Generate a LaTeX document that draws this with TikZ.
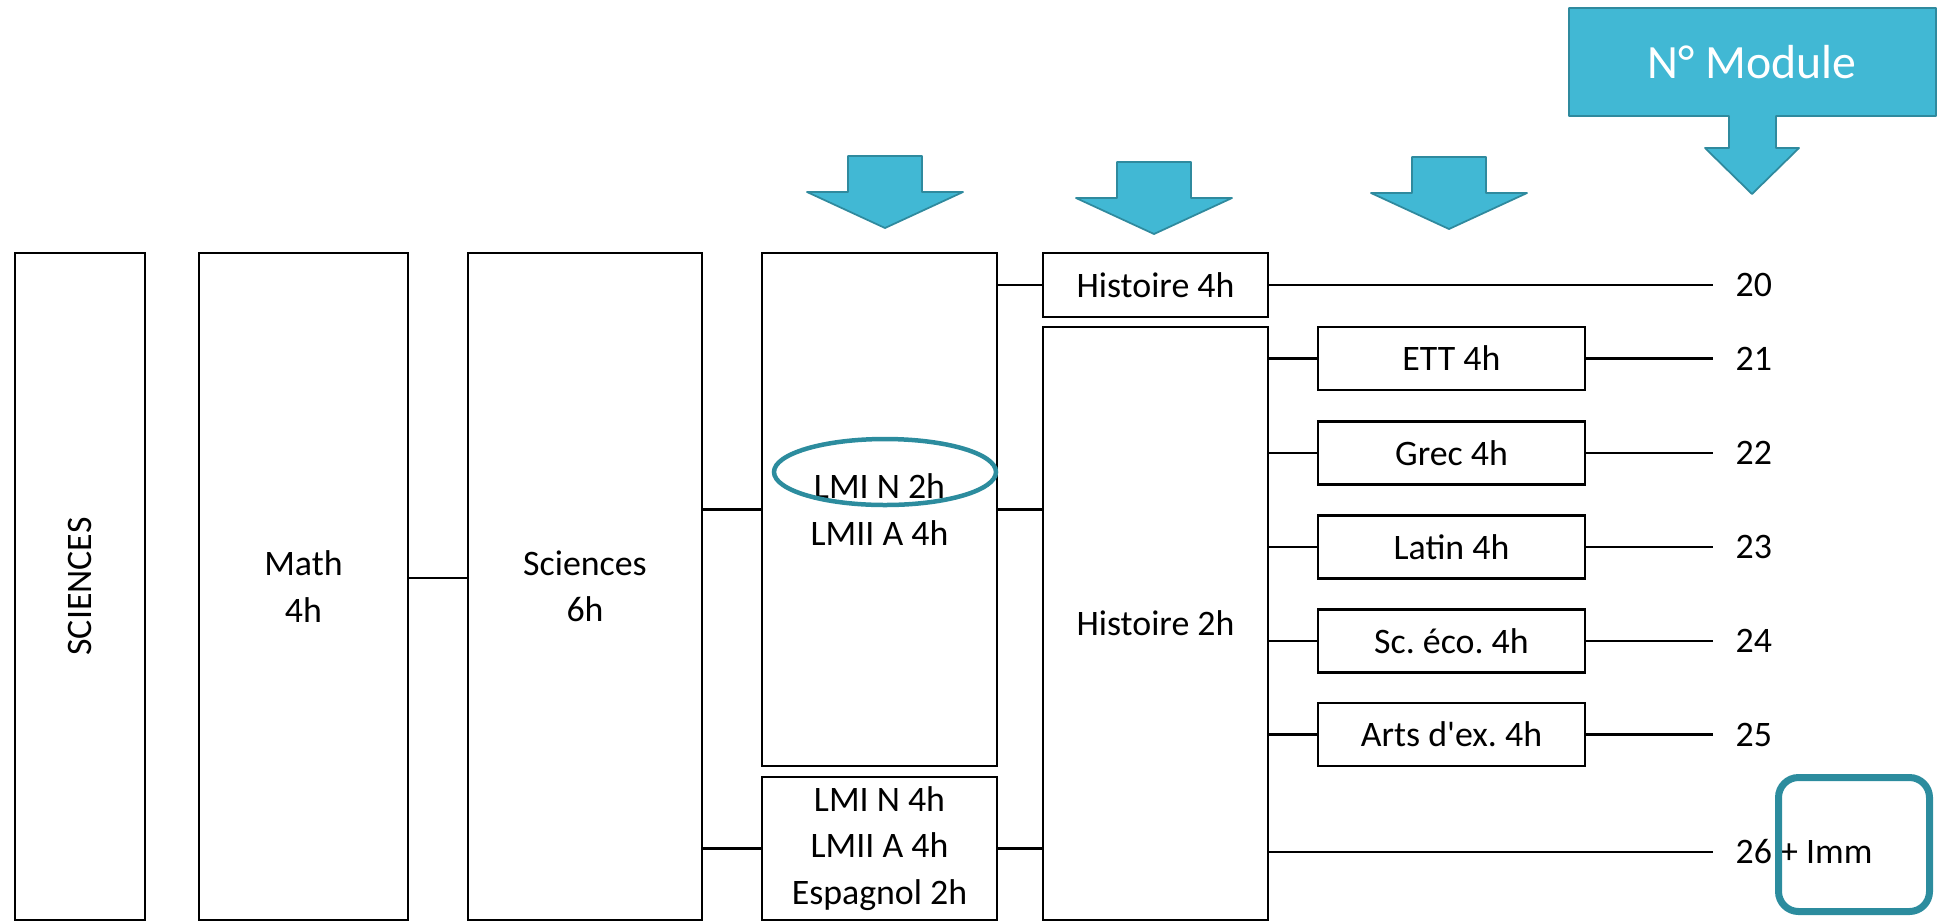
\documentclass[tikz,border=0pt]{standalone}
\usepackage{fontspec}
\setmainfont{Carlito}
\frenchspacing
\definecolor{arrowCyan}{RGB}{65,184,212}
\definecolor{arrowEdge}{RGB}{47,138,158}
\definecolor{markTeal}{RGB}{44,140,158}
\tikzstyle{course}  = [draw, line width=0.6pt, align=center, inner sep=0pt]
\tikzstyle{option}  = [course, minimum width=26.7mm, minimum height=6.3mm]
\tikzstyle{modnum}  = [anchor=west, inner xsep=2.2mm, inner ysep=0pt]
\tikzstyle{link}    = [line width=0.6pt]
\tikzstyle{pointer} = [fill=arrowCyan, draw=arrowEdge, line width=0.5pt, line join=round]
\tikzstyle{marker}  = [draw=markTeal, inner sep=0pt]
\usetikzlibrary{positioning,shapes.geometric}
\tikzset{
  every node/.style={font=\fontsize{10.2}{13.2}\selectfont},
  moduletext/.style={text=white, font=\fontsize{13.6}{16}\selectfont}
}
\newcommand{\choiceArrow}[2]{%
  \filldraw[pointer] ({#1-37},#2) -- ({#1+37},#2) -- ({#1+37},{#2+36}) -- ({#1+78},{#2+36})
    -- (#1,{#2+72}) -- ({#1-78},{#2+36}) -- ({#1-37},{#2+36}) -- cycle;}

\begin{document}
\begin{tikzpicture}[x=0.1mm,y=-0.1mm]
  \useasboundingbox (0,0) rectangle (1949,922);
  \node[course, minimum width=13mm, minimum height=66.7mm]   (sci)   at (80,586.5)    {\rotatebox{90}{SCIENCES}};
  \node[course, minimum width=20.9mm, minimum height=66.7mm] (math)  at (303.5,586.5) {Math\\4h};
  \node[course, minimum width=23.4mm, minimum height=66.7mm] (scis)  at (585,586.5)   {Sciences\\6h};
  \node[course, minimum width=23.5mm, minimum height=51.3mm] (lmiA)  at (879.5,509.5) {LMI N 2h\\LMII A 4h};
  \node[course, minimum width=23.5mm, minimum height=14.3mm] (lmiB)  at (879.5,848.5) {LMI N 4h\\LMII A 4h\\Espagnol 2h};
  \node[course, minimum width=22.5mm, minimum height=6.4mm]  (hist4) at (1155.5,285)  {Histoire 4h};
  \node[course, minimum width=22.5mm, minimum height=59.3mm] (hist2) at (1155.5,623.5) {Histoire 2h};
  \node[option] (ett)   at (1451.5,358.5) {ETT 4h};
  \node[option] (grec)  at (1451.5,453)   {Grec 4h};
  \node[option] (latin) at (1451.5,547)   {Latin 4h};
  \node[option] (eco)   at (1451.5,641)   {Sc. éco. 4h};
  \node[option] (arts)  at (1451.5,734.5) {Arts d\textquotesingle ex. 4h};
  \node[modnum] (n20) at (1713,285)   {20};
  \node[modnum] (n21) at (1713,358.5) {21};
  \node[modnum] (n22) at (1713,453)   {22};
  \node[modnum] (n23) at (1713,547)   {23};
  \node[modnum] (n24) at (1713,641)   {24};
  \node[modnum] (n25) at (1713,734.5) {25};
  \node[modnum] (n26) at (1713,852)   {26 + Imm};

  \draw[link] (math.east |- 0,578) -- (scis.west |- 0,578);
  \draw[link] (scis.east |- lmiA) -- (lmiA.west);
  \draw[link] (scis.east |- lmiB) -- (lmiB.west);
  \draw[link] (lmiA.east |- hist4) -- (hist4.west);
  \draw[link] (lmiA.east) -- (lmiA.east -| hist2.west);
  \draw[link] (lmiB.east) -- (lmiB.east -| hist2.west);
  \draw[link] (hist4.east) -- (n20.west);
  \foreach \opt/\num in {ett/n21, grec/n22, latin/n23, eco/n24, arts/n25} {
    \draw[link] (hist2.east |- \opt) -- (\opt.west);
    \draw[link] (\opt.east) -- (\num.west);
  }
  \draw[link] (hist2.east |- n26) -- (n26.west);

  \choiceArrow{885}{156}
  \choiceArrow{1154}{162}
  \choiceArrow{1449}{157}
  \filldraw[pointer] (1569,8) -- (1936,8) -- (1936,116) -- (1776,116) -- (1776,148) -- (1799,148)
    -- (1752,194) -- (1705,148) -- (1729,148) -- (1729,116) -- (1569,116) -- cycle;
  \node[moduletext] (module) at (1752,62) {N° Module};

  \node[marker, ellipse, line width=0.45mm, minimum width=22.2mm, minimum height=6.6mm] (circled) at (885,472) {};
  \node[marker, rectangle, rounded corners=2mm, line width=0.7mm, minimum width=15.1mm, minimum height=13.4mm] (immbox) at (1854,844.5) {};
\end{tikzpicture}
\end{document}
